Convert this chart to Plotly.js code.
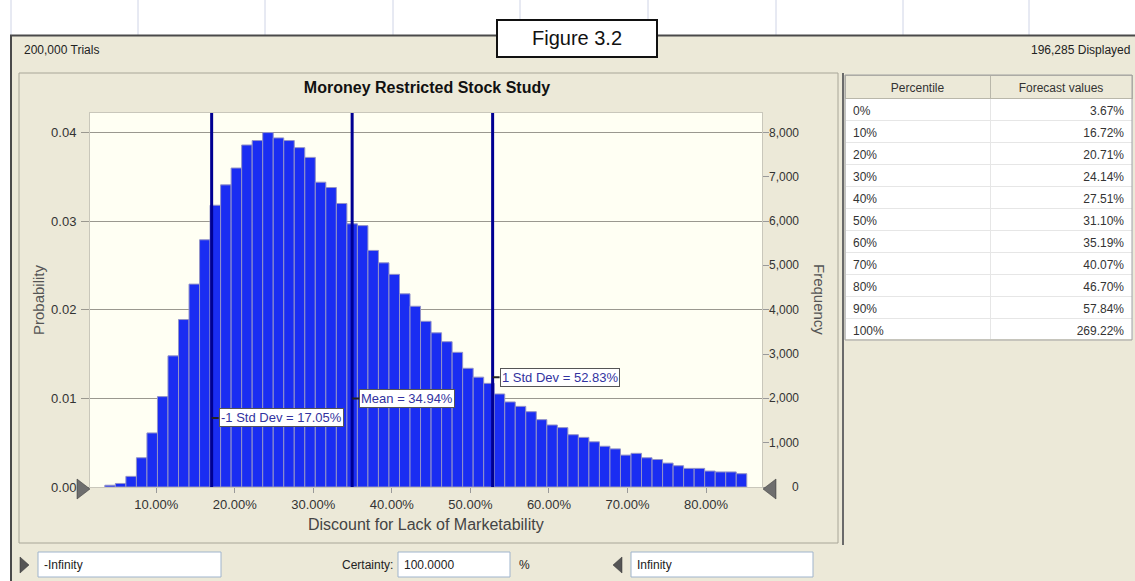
<!DOCTYPE html>
<html><head><meta charset="utf-8">
<script src="https://cdn.plot.ly/plotly-3.0.1.min.js"></script>
<style>html,body{margin:0;padding:0;background:#ece9d8;} #chart{width:1135px;height:581px;}</style>
</head><body><div id="chart"></div>
<script>
// ---------------- DATA ----------------
const binCenters = [4.12, 5.46, 6.80, 8.14, 9.48, 10.82, 12.16, 13.50, 14.84, 16.18,
  17.52, 18.86, 20.20, 21.54, 22.88, 24.22, 25.56, 26.90, 28.24, 29.58,
  30.92, 32.26, 33.60, 34.94, 36.28, 37.62, 38.96, 40.30, 41.64, 42.98,
  44.32, 45.66, 47.00, 48.34, 49.68, 51.02, 52.36, 53.70, 55.04, 56.38,
  57.72, 59.06, 60.40, 61.74, 63.08, 64.42, 65.76, 67.10, 68.44, 69.78,
  71.12, 72.46, 73.80, 75.14, 76.48, 77.82, 79.16, 80.50, 81.84, 83.18, 84.52];
const probability = [0.0002, 0.0004, 0.0012, 0.0033, 0.0061, 0.0102, 0.0148, 0.0189, 0.0229, 0.0279,
  0.0318, 0.0341, 0.0360, 0.0386, 0.0391, 0.0400, 0.0394, 0.0391, 0.0383, 0.0372,
  0.0344, 0.0338, 0.0320, 0.0297, 0.0295, 0.0267, 0.0253, 0.0240, 0.0218, 0.0204,
  0.0187, 0.0174, 0.0164, 0.0152, 0.0134, 0.0124, 0.0117, 0.0105, 0.0096, 0.0091,
  0.0085, 0.0076, 0.0070, 0.0067, 0.0059, 0.0056, 0.0051, 0.0046, 0.0043, 0.0036,
  0.0038, 0.0033, 0.0031, 0.0027, 0.0024, 0.0021, 0.0021, 0.0018, 0.0017, 0.0017, 0.0015];
const binWidth = 1.34;
const trials = 200000;
const displayedText = '196,285 Displayed';
const trialsText = '200,000 Trials';
const statValues = [17.05, 34.94, 52.83];
const statLabels = ['-1 Std Dev = 17.05%', 'Mean = 34.94%', '1 Std Dev = 52.83%'];
const statLabelY = [0.0078, 0.0100, 0.0124];
const xTickVals = [10, 20, 30, 40, 50, 60, 70, 80];
const xTickText = ['10.00%', '20.00%', '30.00%', '40.00%', '50.00%', '60.00%', '70.00%', '80.00%'];
const probTickVals = [0, 0.01, 0.02, 0.03, 0.04];
const freqTickVals = [0, 1000, 2000, 3000, 4000, 5000, 6000, 7000, 8000];
const percentiles = ['0%', '10%', '20%', '30%', '40%', '50%', '60%', '70%', '80%', '90%', '100%'];
const forecastValues = ['3.67%', '16.72%', '20.71%', '24.14%', '27.51%', '31.10%', '35.19%', '40.07%', '46.70%', '57.84%', '269.22%'];
const chartTitle = 'Moroney Restricted Stock Study';
const xTitle = 'Discount for Lack of Marketability';

// ---------------- LAYOUT HELPERS ----------------
const W = 1135, H = 581;
const PX = x => x / W, PY = y => 1 - y / H;
const plotL = 90, plotR = 762, plotT = 113, plotB = 487;
const xRange = [1.56, 87.13];
const yRange = [0, 0.04221];
const NARROW = '"Liberation Sans Narrow", "Arial Narrow", "Liberation Sans", Arial, sans-serif';
const SANS = '"Liberation Sans", Arial, sans-serif';
const BEIGE = '#ece9d8';

const shapes = [];
const annotations = [];
function rect(x0, y0, x1, y1, fill, line, lw, layer) {
  shapes.push({type: 'rect', xref: 'paper', yref: 'paper', x0: PX(x0), x1: PX(x1), y0: PY(y1), y1: PY(y0),
    fillcolor: fill || 'rgba(0,0,0,0)', line: {color: line || 'rgba(0,0,0,0)', width: lw || 0}, layer: layer || 'above'});
}
function hline(x0, x1, y, color, w) {
  shapes.push({type: 'line', xref: 'paper', yref: 'paper', x0: PX(x0), x1: PX(x1), y0: PY(y), y1: PY(y), line: {color, width: w}, layer: 'above'});
}
function vline(x, y0, y1, color, w) {
  shapes.push({type: 'line', xref: 'paper', yref: 'paper', x0: PX(x), x1: PX(x), y0: PY(y0), y1: PY(y1), line: {color, width: w}, layer: 'above'});
}
function tri(pts, color) {
  const d = pts.map((p, i) => (i ? 'L' : 'M') + PX(p[0]) + ',' + PY(p[1])).join(' ') + ' Z';
  shapes.push({type: 'path', xref: 'paper', yref: 'paper', path: d, fillcolor: color, line: {color: '#333', width: 0.5}, layer: 'above'});
}
function text(x, y, t, opts) {
  annotations.push(Object.assign({xref: 'paper', yref: 'paper', x: PX(x), y: PY(y), text: t, showarrow: false,
    xanchor: 'left', yanchor: 'middle', font: {family: NARROW, size: 12, color: '#222'}}, opts || {}));
}

// spreadsheet background (top strip and left strip)
rect(0, 0, W, 35, '#ffffff', null, 0);
rect(0, 35, 11, H, '#ffffff', null, 0);
[11, 138, 265, 393, 520, 648, 776, 903, 1029].forEach(x => vline(x, 0, 35, '#cfd4e6', 1));
// window frame
hline(10, W, 35.5, '#4a4a4a', 2);
vline(11, 35, H, '#4a4a4a', 2);
// Figure label box
rect(497, 20, 657, 57, '#ffffff', '#111111', 2);
text(577, 38, 'Figure 3.2', {xanchor: 'center', font: {family: SANS, size: 20, color: '#111'}});
// header texts
text(22, 50, trialsText, {font: {family: NARROW, size: 12, color: '#222'}});
text(1132, 50, displayedText, {xanchor: 'right', font: {family: NARROW, size: 12, color: '#222'}});
// panels
rect(19, 73, 838, 543, null, '#a8a698', 1);
vline(843, 73, 545, '#6a6a6a', 2);
rect(845, 75, 1132, 340, null, '#a0a0a0', 1);
// axis end triangles
tri([[77, 479], [90, 489], [77, 499]], '#6e6e6e');
tri([[776, 479], [763, 489], [776, 499]], '#6e6e6e');
// bottom controls
tri([[20, 557], [29, 565], [20, 573]], '#555');
rect(38, 552, 221, 577, '#ffffff', '#9fb4cc', 1);
text(42, 565, '-Infinity');
text(395, 565, 'Certainty:', {xanchor: 'right'});
rect(398, 552, 510, 577, '#ffffff', '#9fb4cc', 1);
text(402, 565, '100.0000');
text(517, 565, '%');
tri([[622, 557], [613, 565], [622, 573]], '#555');
rect(631, 552, 813, 577, '#ffffff', '#9fb4cc', 1);
text(635, 565, 'Infinity');

// axis titles
text(38, 300, 'Probability', {xanchor: 'center', textangle: -90, font: {family: SANS, size: 15, color: '#555'}});
text(820, 299, 'Frequency', {xanchor: 'center', textangle: 90, font: {family: SANS, size: 15, color: '#555'}});
text(426, 524, xTitle, {xanchor: 'center', font: {family: SANS, size: 16, color: '#444'}});

// right axis labels (right-aligned like the original)
freqTickVals.forEach(v => {
  annotations.push({xref: 'paper', yref: 'y2', x: PX(801), y: v, text: v.toLocaleString('en-US'), showarrow: false,
    xanchor: 'right', yanchor: 'middle', font: {family: NARROW, size: 12, color: '#333'}});
});

// statistic lines and labels
statValues.forEach((v, i) => {
  shapes.push({type: 'line', xref: 'x', yref: 'paper', x0: v, x1: v, y0: PY(plotB), y1: PY(plotT),
    line: {color: '#000092', width: 3}, layer: 'above'});
  annotations.push({xref: 'x', yref: 'y', x: v, y: statLabelY[i], text: statLabels[i], showarrow: true,
    ax: 7, ay: 0, axref: 'pixel', ayref: 'pixel', arrowhead: 0, arrowwidth: 2, arrowcolor: '#222', standoff: 0,
    xanchor: 'left', yanchor: 'middle', bgcolor: '#ffffff', bordercolor: '#555', borderwidth: 1, borderpad: 1,
    font: {family: NARROW, size: 13, color: '#3232a0'}});
});

const traces = [
  {type: 'bar', x: binCenters, y: probability, width: binWidth, xaxis: 'x', yaxis: 'y',
   marker: {color: '#1a2df2', line: {color: '#9393c8', width: 1}}, hoverinfo: 'x+y'},
  {type: 'scatter', x: [binCenters[0]], y: [0], xaxis: 'x', yaxis: 'y2', mode: 'markers',
   marker: {opacity: 0}, hoverinfo: 'skip'},
  {type: 'table', domain: {x: [PX(845), PX(1132)], y: [PY(340), PY(75)]}, columnwidth: [145, 142],
   header: {values: ['Percentile', 'Forecast values'], align: 'center', height: 23,
     fill: {color: '#ece9d8'}, line: {color: '#b9b7aa', width: 1}, font: {family: NARROW, size: 12, color: '#333'}},
   cells: {values: [percentiles, forecastValues], align: ['left', 'right'], height: 22,
     fill: {color: '#ffffff'}, line: {color: '#e6e6e6', width: 1}, font: {family: NARROW, size: 12, color: '#333'}}}
];

const layout = {
  width: W, height: H, margin: {l: 0, r: 0, t: 0, b: 0},
  paper_bgcolor: BEIGE, plot_bgcolor: '#fffff3', showlegend: false, bargap: 0,
  title: {text: chartTitle, x: PX(427), y: PY(87), xanchor: 'center', yanchor: 'middle',
    font: {family: SANS, size: 16, color: '#111', weight: 'bold'}},
  xaxis: {domain: [PX(plotL), PX(plotR)], range: xRange, tickvals: xTickVals, ticktext: xTickText,
    ticks: 'outside', ticklen: 5, tickcolor: '#999', showgrid: false, zeroline: false,
    showline: true, linecolor: '#c9c7bb', mirror: true, tickfont: {family: NARROW, size: 13, color: '#333'}, anchor: 'y'},
  yaxis: {domain: [PY(plotB), PY(plotT)], range: yRange, tickvals: probTickVals, tickformat: '.2f',
    ticks: 'outside', ticklen: 8, tickcolor: '#9a988f', gridcolor: '#9a988f', gridwidth: 1.3, zeroline: false,
    showline: true, linecolor: '#c9c7bb', mirror: true, ticklabelstandoff: 2, tickfont: {family: NARROW, size: 13, color: '#333'}},
  yaxis2: {overlaying: 'y', side: 'right', anchor: 'x', range: [yRange[0] * trials, yRange[1] * trials],
    tickvals: freqTickVals, ticks: 'outside', ticklen: 6, tickcolor: '#999', showticklabels: false,
    showgrid: false, zeroline: false, showline: false},
  shapes, annotations
};

Plotly.newPlot('chart', traces, layout, {displayModeBar: false, staticPlot: true});
</script></body></html>
